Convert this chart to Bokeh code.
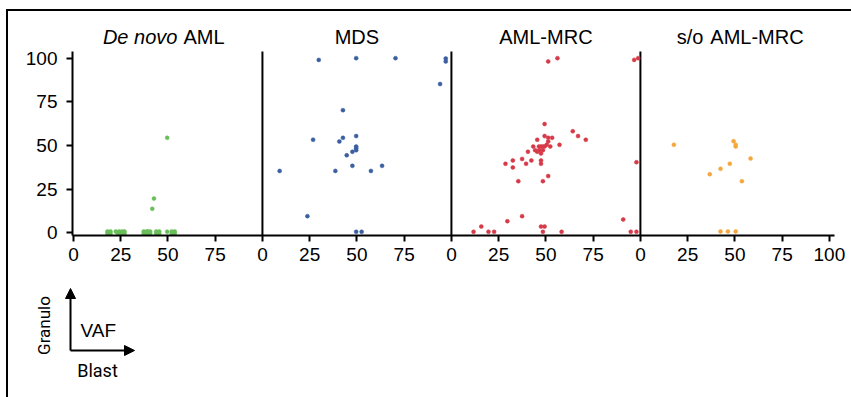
from math import pi
from bokeh.plotting import figure
from bokeh.models import Range1d, FixedTicker, Arrow, NormalHead
from bokeh.layouts import column, row
from bokeh.core.properties import value
from bokeh.embed import file_html
from bokeh.resources import INLINE

# ---------------- data ----------------
panel_titles = ["De novo AML", "MDS", "AML-MRC", "s/o  AML-MRC"]
panel_colors = ["#6abe5a", "#3a5fa0", "#d63a48", "#f5a63c"]

denovo_blast = [49.6, 42.6, 41.7, 49.6,
                18.0, 19.6, 18.0, 19.6, 18.8,
                22.4, 24.0, 23.2,
                24.2, 25.8, 24.2, 25.8, 25.0,
                26.4, 27.0, 27.0,
                37.2, 38.8, 37.2, 38.8, 38.0,
                40.0, 40.6, 40.6, 39.4,
                43.8, 45.4, 43.8, 45.4, 44.6,
                52.0, 53.6, 52.0, 53.6, 52.8]
denovo_granulo = [54.4, 19.5, 13.6, 0.5,
                  0.6, 0.6, -0.6, -0.6, 0.0,
                  0.6, -0.6, 0.0,
                  0.6, 0.6, -0.6, -0.6, 0.0,
                  0.0, 0.6, -0.6,
                  0.6, 0.6, -0.6, -0.6, 0.0,
                  0.0, 0.6, -0.6, 0.6,
                  0.6, 0.6, -0.6, -0.6, 0.0,
                  0.6, 0.6, -0.6, -0.6, 0.0]

mds_blast = [29.8, 49.6, 70.4, 97.0, 97.0, 94.0, 42.6, 26.8, 42.6, 40.7, 49.6, 49.6,
             49.6, 49.6, 47.6, 44.6, 47.6, 63.3, 9.1, 38.6, 57.4, 23.8, 49.6, 52.5]
mds_granulo = [99.2, 100.2, 100.2, 100.0, 98.3, 85.3, 70.3, 53.3, 54.4, 52.3, 55.4, 49.4,
               48.4, 47.3, 46.4, 44.4, 38.3, 38.3, 35.4, 35.4, 35.4, 9.4, 0.4, 0.4]

mrc_blast = [51.2, 56.1, 96.7, 98.8,
             49.3, 64.2, 67.0, 71.1,
             45.4, 49.3, 51.2, 53.3, 51.2, 57.2, 52.3, 50.4,
             43.3, 46.3, 47.4, 48.4, 49.3,
             44.3, 45.4, 46.5, 48.4, 47.4, 40.5,
             37.4, 42.3, 47.4, 32.5, 28.6, 39.5, 47.4, 32.5,
             97.9, 51.2, 35.4, 48.4,
             37.4, 29.6, 90.9, 15.8, 47.4, 49.3,
             11.7, 19.6, 22.6, 48.4, 58.3, 94.9, 97.9]
mrc_granulo = [98.3, 100.2, 99.2, 100.2,
               62.3, 58.2, 55.4, 53.3,
               53.3, 55.4, 54.4, 54.4, 52.3, 50.4, 49.4, 50.4,
               49.4, 49.4, 49.4, 49.4, 49.4,
               47.3, 46.4, 47.3, 47.3, 45.4, 46.4,
               42.3, 41.4, 41.4, 41.4, 39.5, 39.5, 39.5, 37.4,
               40.4, 32.4, 29.5, 29.5,
               9.4, 6.5, 7.5, 3.4, 3.4, 3.4,
               0.4, 0.4, 0.4, 0.4, 0.4, 0.4, 0.4]

so_blast = [17.7, 49.3, 50.4, 50.4, 58.3, 47.3, 42.4, 36.7, 53.7, 42.4, 46.3, 50.4]
so_granulo = [50.4, 52.5, 50.4, 49.4, 42.5, 39.5, 36.6, 33.5, 29.5, 0.6, 0.6, 0.6]

panel_blast = [denovo_blast, mds_blast, mrc_blast, so_blast]
panel_granulo = [denovo_granulo, mds_granulo, mrc_granulo, so_granulo]

panel_span = 100
y_ticks = [0, 25, 50, 75, 100]
x_ticks = [0, 25, 50, 75, 100, 125, 150, 175, 200, 225, 250, 275, 300, 325, 350, 375, 400]
x_tick_labels = ["0", "25", "50", "75", "0", "25", "50", "75", "0", "25", "50", "75",
                 "0", "25", "50", "75", "100"]

FONT = value("Liberation Sans")
NARROW = value("Roboto")

# ---------------- main panel figure ----------------
y_lo, y_hi, y_axis_top = -1.72, 127.0, 104
p = figure(width=843, height=264,
           x_range=Range1d(-0.5, 402.7), y_range=Range1d(y_lo, y_hi),
           output_backend="svg", toolbar_location=None,
           min_border_left=64, min_border_right=17,
           min_border_top=0, min_border_bottom=40)
p.grid.visible = False
p.outline_line_color = None
p.background_fill_color = "white"
p.border_fill_color = "white"

for ax in (p.xaxis[0], p.yaxis[0]):
    ax.axis_line_width = 2
    ax.major_tick_line_width = 2
    ax.major_tick_out = 6
    ax.major_tick_in = 0
    ax.minor_tick_out = 0
    ax.minor_tick_in = 0
    ax.major_label_text_font = "Liberation Sans"
    ax.major_label_text_font_size = "19px"
    ax.major_label_text_color = "black"

p.yaxis.ticker = FixedTicker(ticks=y_ticks)
p.yaxis.bounds = (y_lo, y_axis_top)
p.yaxis.major_label_standoff = 9
p.xaxis.ticker = FixedTicker(ticks=x_ticks)
p.xaxis.major_label_overrides = {t: l for t, l in zip(x_ticks, x_tick_labels)}
p.xaxis.major_label_standoff = 6

# panel dividers
div_x = [panel_span * i for i in range(1, len(panel_titles))]
p.segment(x0=div_x, y0=y_lo, x1=div_x, y1=y_axis_top, line_width=2, line_color="black")

# points
for i, (bx, gy, col) in enumerate(zip(panel_blast, panel_granulo, panel_colors)):
    xs = [v + panel_span * i for v in bx]
    p.scatter(xs, gy, size=4, fill_color=col, line_color=col, line_width=0.5)

# titles
title_y = 112.1
centers = [panel_span * i + panel_span / 2 for i in range(len(panel_titles))]
p.text(x=[centers[0] + 5.0], y=[title_y], text=["De novo"], text_font=FONT, text_font_style="italic",
       text_font_size="20px", text_align="right", text_baseline="middle")
p.text(x=[centers[0] + 8.2], y=[title_y], text=["AML"], text_font=FONT,
       text_font_size="20px", text_align="left", text_baseline="middle")
p.text(x=centers[1:3], y=[title_y] * 2, text=panel_titles[1:3], text_font=FONT,
       text_font_size="20px", text_align="center", text_baseline="middle")
so_prefix, so_rest = panel_titles[3].split("  ")
p.text(x=[centers[3] - 16.7], y=[title_y], text=[so_prefix], text_font=FONT,
       text_font_size="20px", text_align="right", text_baseline="middle")
p.text(x=[centers[3] - 13.0], y=[title_y], text=[so_rest], text_font=FONT,
       text_font_size="20px", text_align="left", text_baseline="middle")

# ---------------- key figure ----------------
k = figure(width=843, height=122, x_range=Range1d(0, 843), y_range=Range1d(0, 122),
           output_backend="svg", toolbar_location=None, min_border=0,
           x_axis_location=None, y_axis_location=None)
k.grid.visible = False
k.outline_line_color = None
k.background_fill_color = "white"
k.border_fill_color = "white"

corner = (62, 47)
k.add_layout(Arrow(end=NormalHead(size=10, fill_color="black", line_color="black"),
                   x_start=corner[0], y_start=corner[1], x_end=corner[0], y_end=109,
                   line_width=2, line_color="black"))
k.add_layout(Arrow(end=NormalHead(size=10, fill_color="black", line_color="black"),
                   x_start=corner[0], y_start=corner[1], x_end=126, y_end=corner[1],
                   line_width=2, line_color="black"))
k.text(x=[35], y=[72], text=["Granulo"], angle=pi / 2, text_font=NARROW,
       text_font_size="17px", text_align="center", text_baseline="middle")
k.text(x=[72], y=[67], text=["VAF"], text_font=FONT,
       text_font_size="19px", text_align="left", text_baseline="middle")
k.text(x=[89], y=[27], text=["Blast"], text_font=NARROW,
       text_font_size="18px", text_align="center", text_baseline="middle")

layout = column(p, row(k), styles={"border-top": "2px solid black", "border-left": "2px solid black",
                                   "margin-left": "6px", "margin-top": "9px"})

open("out.html", "w").write(file_html(layout, INLINE))
